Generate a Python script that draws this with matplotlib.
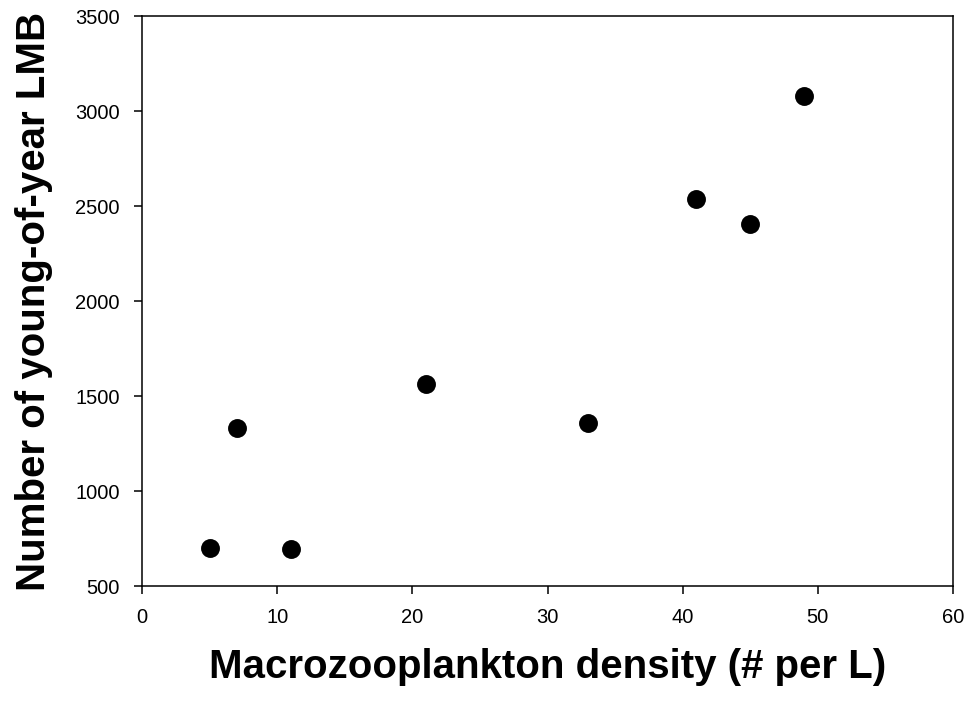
import matplotlib
matplotlib.use("Agg")
import matplotlib.pyplot as plt

# ── data ────────────────────────────────────────────────────────────────────
density = [5, 7, 11, 21, 33, 41, 45, 49]            # macrozooplankton, # per L
yoy_lmb = [702, 1330, 697, 1565, 1358, 2539, 2404, 3079]  # young-of-year LMB

x_ticks = [0, 10, 20, 30, 40, 50, 60]
y_ticks = [500, 1000, 1500, 2000, 2500, 3000, 3500]

plt.rcParams["font.family"] = ["Liberation Sans", "DejaVu Sans"]

fig = plt.figure(figsize=(9.70, 7.02), dpi=100)
ax = fig.add_axes([0.1464, 0.1652, 0.8361, 0.8120])

ax.scatter(density, yoy_lmb, s=185, color="black", zorder=3, linewidths=0)

ax.set_xlim(0, 60)
ax.set_ylim(500, 3500)
ax.set_xticks(x_ticks)
ax.set_yticks(y_ticks)
ax.tick_params(direction="out", length=6, width=1.1, labelsize=14.5, pad=10)

for sp in ax.spines.values():
    sp.set_linewidth(1.1)

ax.set_xlabel("Macrozooplankton density (# per L)", fontsize=29,
              fontweight="bold", labelpad=15)
ax.set_ylabel("Number of young-of-year LMB", fontsize=29,
              fontweight="bold", labelpad=16)

fig.savefig("out.png", dpi=100)
